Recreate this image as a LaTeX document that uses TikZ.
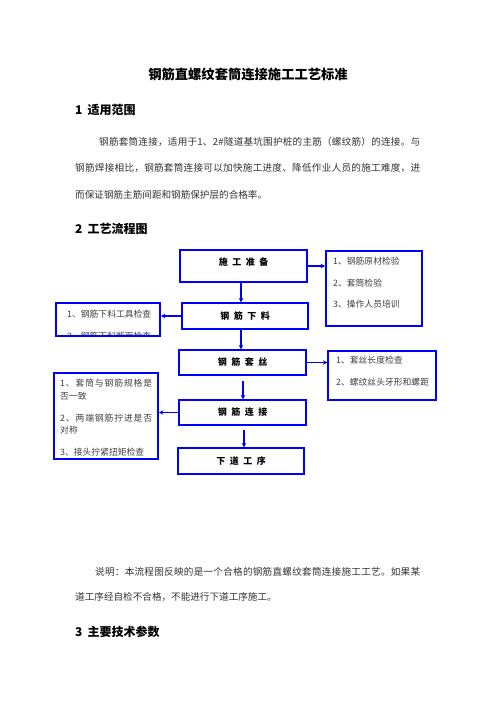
\documentclass[tikz,border=0pt]{standalone}
\usepackage{fontspec}
\setmainfont{Noto Sans CJK SC}
\usetikzlibrary{arrows.meta}

\newcommand{\labelgap}{\hspace{4.5pt}}
% one line spread out to the full width, as the page does
\makeatletter
\newcommand{\spreadline}[2]{\makebox[#1][s]{\def\spread@first{1}\@tfor\spread@c:=#2\do{\ifx\spread@first\empty\hfil\fi\def\spread@first{}\spread@c}}}
\makeatother

\tikzset{
  stepbox/.style={draw=blue, line width=1.2pt, minimum width=127pt, minimum height=26pt, inner sep=0pt},
  checkbox/.style={draw=blue, line width=1.4pt, inner sep=0pt},
  boxlabel/.style={font=\fontsize{9}{10}\selectfont\bfseries, inner sep=0pt},
  checktext/.style={anchor=west, inner sep=0pt, text=black!75, font=\fontsize{8.8}{10}\selectfont},
  bodytext/.style={anchor=west, inner sep=0pt, text=black!80, font=\fontsize{9.6}{11}\selectfont},
  headtext/.style={anchor=west, inner sep=0pt, font=\fontsize{12}{13}\selectfont\bfseries},
  flow/.style={draw=blue, line width=1.5pt, -{Stealth[length=4.5pt,width=4.5pt]}}
}

\begin{document}
\begin{tikzpicture}[x=1pt, y=-1pt]
	% page frame
	\useasboundingbox[fill=white] (0,0) rectangle (496,702);

	% title and first section
	\node[inner sep=0pt, font=\fontsize{13.3}{14}\selectfont\bfseries] (title) at (248,74) {钢筋直螺纹套筒连接施工工艺标准};
	\node[headtext] (head1) at (75,110) {1\hspace{5pt}适用范围};
	\node[bodytext] (para1) at (99,142) {\spreadline{321pt}{钢筋套筒连接，适用于1、2\#隧道基坑围护桩的主筋（螺纹筋）的连接。与}};
	\node[bodytext] (para2) at (75,168) {\spreadline{345pt}{钢筋焊接相比，钢筋套筒连接可以加快施工进度、降低作业人员的施工难度，进}};
	\node[bodytext] (para3) at (75,195) {而保证钢筋主筋间距和钢筋保护层的合格率。};
	\node[headtext] (head2) at (75,229) {2\hspace{5pt}工艺流程图};

	% main steps, top to bottom
	\node[stepbox, line width=1.6pt, minimum height=32pt] (prep) at (243.5,266) {};
	\node[boxlabel] (prep text) at (243.5,262) {施\labelgap 工\labelgap 准\labelgap 备};
	\node[stepbox, minimum width=126pt] (cut) at (245,316) {};
	\node[boxlabel] at (cut) {钢\labelgap 筋\labelgap 下\labelgap 料};
	\node[stepbox, minimum height=25pt] (thread) at (242.5,362.5) {};
	\node[boxlabel] at (thread) {钢\labelgap 筋\labelgap 套\labelgap 丝};
	\node[stepbox, minimum height=25pt] (join) at (242.5,412.5) {};
	\node[boxlabel] at (join) {钢\labelgap 筋\labelgap 连\labelgap 接};
	\node[stepbox, minimum width=126pt] (next) at (241,461) {};
	\node[boxlabel] at (next) {下\labelgap 道\labelgap 工\labelgap 序};

	% checks beside the steps
	% the last line of the left box is cut by its frame
	\begin{scope}
		\clip (56,303) rectangle (160,335);
		\node[checktext] (cutcheck2) at (67,336) {2、钢筋下料断面检查};
	\end{scope}
	\node[checkbox, line width=1.8pt, minimum width=104pt, minimum height=33pt] (chkcut) at (108,319.5) {};
	\node[checktext] (cutcheck1) at (67,314) {1、钢筋下料工具检查};

	\node[checkbox, line width=1.8pt, minimum width=96pt, minimum height=75pt] (chkprep) at (374,288.5) {};
	\node[checktext] (prepcheck1) at (333,261) {1、钢筋原材检验};
	\node[checktext] (prepcheck2) at (333,283) {2、套筒检验};
	\node[checktext] (prepcheck3) at (333,304) {3、操作人员培训};

	\node[checkbox, line width=1.2pt, minimum width=108pt, minimum height=49pt] (chkthread) at (382,375.5) {};
	\node[checktext] (threadcheck1) at (336,360) {1、套丝长度检查};
	\node[checktext] (threadcheck2) at (336,382) {2、螺纹丝头牙形和螺距};

	\node[checkbox, line width=1.6pt, minimum width=104pt, minimum height=86pt] (chkjoin) at (106,416) {};
	\node[checktext] (joincheck1) at (60,383) {\spreadline{92pt}{1、套筒与钢筋规格是}};
	\node[checktext] (joincheck1b) at (60,396) {否一致};
	\node[checktext] (joincheck2) at (60,418) {\spreadline{92pt}{2、两端钢筋拧进是否}};
	\node[checktext] (joincheck2b) at (60,430) {对称};
	\node[checktext] (joincheck3) at (60,452) {3、接头拧紧扭矩检查};

	% arrows
	\draw[flow] (prep.south -| 241,0) -- (cut.north -| 241,0);
	\draw[flow] (cut.south -| 241,0) -- (thread.north -| 241,0);
	\draw[flow] ([yshift=-5pt]thread.south -| 243,0) -- (join.north -| 243,0);
	\draw[flow] ([yshift=-4pt]join.south -| 244,0) -- (next.north -| 244,0);
	\draw[flow] (prep.east) -- (prep.east -| chkprep.west);
	\draw[flow] (cut.west) -- (cut.west -| chkcut.east);
	\draw[flow] (thread.east) -- (thread.east -| chkthread.west);
	\draw[flow] (join.west) -- (join.west -| chkjoin.east);

	% note under the chart
	\node[bodytext] (note1) at (95,572) {\spreadline{325pt}{说明：本流程图反映的是一个合格的钢筋直螺纹套筒连接施工工艺。如果某}};
	\node[bodytext] (note2) at (75,597) {道工序经自检不合格，不能进行下道工序施工。};
	\node[headtext] (head3) at (75,632) {3\hspace{5pt}主要技术参数};
\end{tikzpicture}
\end{document}
